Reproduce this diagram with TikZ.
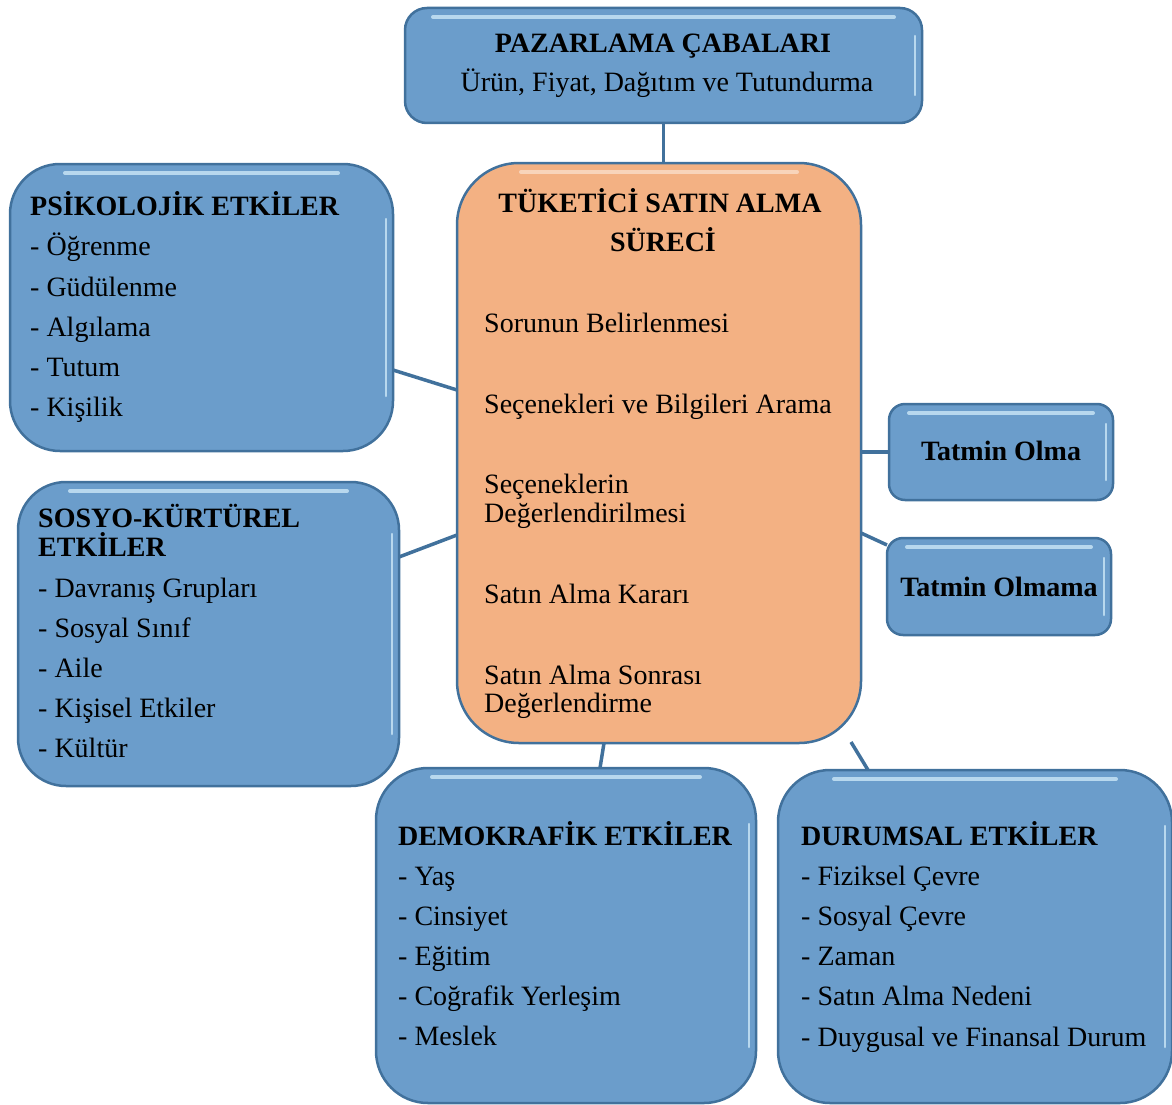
\documentclass[tikz,border=0pt]{standalone}
\usepackage{fontspec}
\setmainfont{Liberation Serif}
\usetikzlibrary{backgrounds}
\definecolor{boxblue}{HTML}{6B9DCB}
\definecolor{edgeblue}{HTML}{41719C}
\definecolor{procorange}{HTML}{F3B183}
\definecolor{shinecol}{HTML}{D2ECFA}
\tikzset{
  box/.style={draw=edgeblue, line width=2.5pt, fill=boxblue, inner sep=0pt, outer sep=0pt},
  procbox/.style={box, fill=procorange},
  link/.style={draw=edgeblue, line width=3.5pt},
  txt/.style={anchor=base west, inner sep=0pt, font=\fontsize{28}{33}\selectfont},
  ttl/.style={anchor=base west, inner sep=0pt, font=\fontsize{28}{33}\selectfont\bfseries},
  ctxt/.style={txt, anchor=base},
  cttl/.style={ttl, anchor=base},
  shine/.style={draw=shinecol, line width=4pt, line cap=round, opacity=0.75}
}
\newcommand{\glossbox}[2]{%
  \draw[shine] ([xshift=#2,yshift=-9]#1.north west) -- ([xshift=-#2,yshift=-9]#1.north east);
  \draw[shine, line width=2.5pt] ([xshift=-7,yshift=-#2]#1.north east) -- ([xshift=-7,yshift=#2]#1.south east);
}
\begin{document}
\begin{tikzpicture}[x=1pt, y=-1pt]
\useasboundingbox (0,0) rectangle (1172,1105);

% boxes
\node[box, rounded corners=22, minimum width=517, minimum height=115] (mkt) at (663.5,65.5) {};
\node[procbox, rounded corners=62, minimum width=404, minimum height=580] (proc) at (659,453) {};
\node[box, rounded corners=50, minimum width=383, minimum height=287] (psy) at (201.5,307.5) {};
\node[box, rounded corners=48, minimum width=381, minimum height=304] (sos) at (208.5,634) {};
\node[box, rounded corners=16, minimum width=224, minimum height=96] (tok) at (1001,452) {};
\node[box, rounded corners=16, minimum width=224, minimum height=97] (tno) at (999,586.5) {};
\node[box, rounded corners=52, minimum width=380, minimum height=335] (dem) at (566,935.5) {};
\node[box, rounded corners=52, minimum width=394, minimum height=333] (dur) at (975,936.5) {};

\glossbox{mkt}{28}
\glossbox{psy}{55}
\glossbox{sos}{52}
\glossbox{tok}{20}
\glossbox{tno}{20}
\glossbox{dem}{56}
\glossbox{dur}{56}
\draw[shine, draw=white, opacity=0.45] ([xshift=64,yshift=-9]proc.north west) -- ([xshift=-64,yshift=-9]proc.north east);

% connectors
\begin{scope}[on background layer]
\draw[link] (mkt.south) -- (mkt.south |- proc.north);
\draw[link] ([yshift=-62.5]psy.east) -- ([yshift=63]proc.west);
\draw[link] ([yshift=77]sos.east) -- ([yshift=-82]proc.west);
\draw[link] (tok.west) -- (tok.west -| proc.east);
\draw[link] ([yshift=-80]proc.east) -- ([yshift=41.5]tno.west);
\draw[link] ([xshift=-55]proc.south) -- ([xshift=34]dem.north);
\coordinate (durstart) at ([xshift=192,yshift=1]proc.south);
\draw[link] (durstart) -- ([xshift=-107]dur.north);
\end{scope}

% texts: top
\node[cttl] (mktT) at (663,53) {PAZARLAMA ÇABALARI};
\node[ctxt] (mktS) at (667,92) {Ürün, Fiyat, Dağıtım ve Tutundurma};

% process
\node[cttl] (prT1) at (660,212) {TÜKETİCİ SATIN ALMA};
\node[cttl] (prT2) at (663,251) {SÜRECİ};
\node[txt] (pr1) at (484,332) {Sorunun Belirlenmesi};
\node[txt] (pr2) at (484,413) {Seçenekleri ve Bilgileri Arama};
\node[txt] (pr3a) at (484,493) {Seçeneklerin};
\node[txt] (pr3b) at (484,522) {Değerlendirilmesi};
\node[txt] (pr4) at (484,603) {Satın Alma Kararı};
\node[txt] (pr5a) at (484,684) {Satın Alma Sonrası};
\node[txt] (pr5b) at (484,712) {Değerlendirme};

% psychological
\node[ttl] (psyT) at (30,215) {PSİKOLOJİK ETKİLER};
\node[txt] (psy1) at (30,255) {- Öğrenme};
\node[txt] (psy2) at (30,296) {- Güdülenme};
\node[txt] (psy3) at (30,336) {- Algılama};
\node[txt] (psy4) at (30,376) {- Tutum};
\node[txt] (psy5) at (30,416) {- Kişilik};

% socio-cultural
\node[ttl] (sosT1) at (38,527) {SOSYO-KÜRTÜREL};
\node[ttl] (sosT2) at (38,556) {ETKİLER};
\node[txt] (sos1) at (38,597) {- Davranış Grupları};
\node[txt] (sos2) at (38,637) {- Sosyal Sınıf};
\node[txt] (sos3) at (38,677) {- Aile};
\node[txt] (sos4) at (38,717) {- Kişisel Etkiler};
\node[txt] (sos5) at (38,757) {- Kültür};

% satisfaction
\node[cttl] (tokT) at (1001,460) {Tatmin Olma};
\node[cttl] (tnoT) at (999,596) {Tatmin Olmama};

% demographic
\node[ttl] (demT) at (398,845) {DEMOKRAFİK ETKİLER};
\node[txt] (dem1) at (398,885) {- Yaş};
\node[txt] (dem2) at (398,925) {- Cinsiyet};
\node[txt] (dem3) at (398,965) {- Eğitim};
\node[txt] (dem4) at (398,1005) {- Coğrafik Yerleşim};
\node[txt] (dem5) at (398,1045) {- Meslek};

% situational
\node[ttl] (durT) at (801,845) {DURUMSAL ETKİLER};
\node[txt] (dur1) at (801,885) {- Fiziksel Çevre};
\node[txt] (dur2) at (801,925) {- Sosyal Çevre};
\node[txt] (dur3) at (801,965) {- Zaman};
\node[txt] (dur4) at (801,1005) {- Satın Alma Nedeni};
\node[txt] (dur5) at (801,1046) {- Duygusal ve Finansal Durum};
\end{tikzpicture}
\end{document}
